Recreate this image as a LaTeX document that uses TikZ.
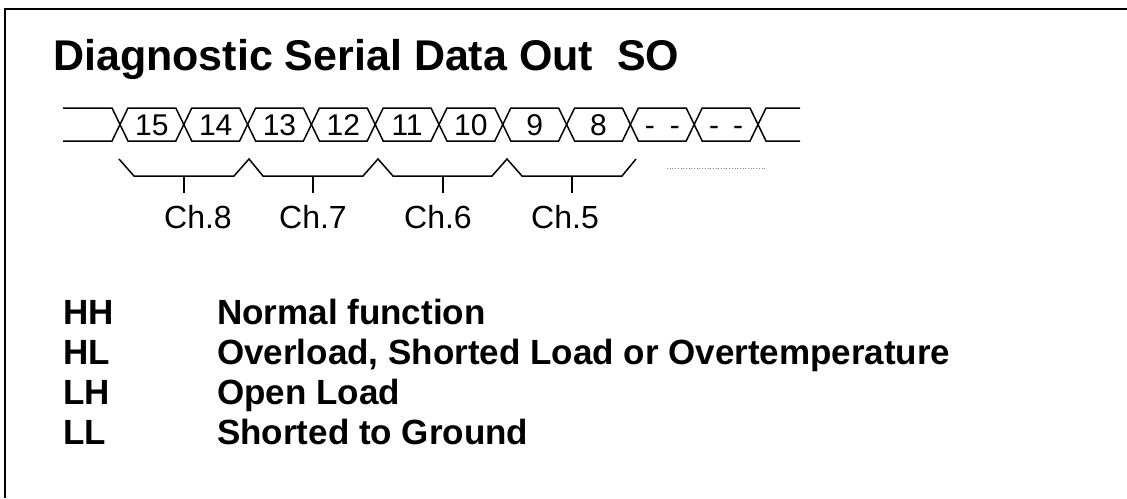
\documentclass[tikz,border=0pt]{standalone}
\usepackage{fontspec}
\setmainfont{Liberation Sans}
\usetikzlibrary{positioning}

\begin{document}
\begin{tikzpicture}[
    x=1pt, y=-1pt,
    node distance=12pt,
    wave/.style={line width=1.5pt, line join=miter},
    brace/.style={line width=1.5pt},
    frame/.style={line width=2.4pt},
    bitlabel/.style={font=\fontsize{30}{30}\selectfont, inner sep=0pt, anchor=base},
    chlabel/.style={font=\fontsize{32}{32}\selectfont, inner sep=0pt},
    heading/.style={font=\bfseries\fontsize{43}{43}\selectfont, inner sep=0pt, anchor=base west},
    legend/.style={font=\bfseries\fontsize{35}{35}\selectfont, inner sep=0pt, anchor=base west}
]
    \useasboundingbox (0,0) rectangle (1127,498);
    \draw[frame] (5,498) -- (5,9) -- (1127,9);

    \node[heading] (title) at (53,70) {Diagnostic Serial Data Out\ \ SO};

    % serial frame, one cell per bit
    \draw[wave] (63,108) -- (112,108) -- (120,124.5) -- (112,141) -- (63,141);
    \foreach \lbl [count=\i from 0] in {15,14,13,12,11,10,9,8,{-\hspace{15pt}-},{-\hspace{14pt}-}} {
        \pgfmathsetmacro{\xa}{120+63.8*\i}
        \pgfmathsetmacro{\xb}{\xa+63.8}
        \draw[wave] (\xa,124.5) -- (\xa+8,108) -- (\xb-8,108) -- (\xb,124.5)
            -- (\xb-8,141) -- (\xa+8,141) -- cycle;
        \node[bitlabel] (bit\i) at ({(\xa+\xb)/2},135.5) {\lbl};
    }
    \draw[wave] (800,108) -- (766,108) -- (758,124.5) -- (766,141) -- (800,141);

    % two bits per channel
    \draw[brace] (119,159) -- (134,176) -- (234,176) -- (249,159) -- (263,176)
        -- (363,176) -- (378,159) -- (393,176) -- (492,176) -- (507,159) -- (522,176)
        -- (622,176) -- (636,159);
    \draw[dotted, gray, line width=0.7pt] (667,168) -- (766,168);

    \coordinate (t8) at (184,193);
    \coordinate (t7) at (313,193);
    \coordinate (t6) at (443,193);
    \coordinate (t5) at (572,193);
    \draw[brace] (184,176) -- (t8);
    \draw[brace] (313,176) -- (t7);
    \draw[brace] (443,176) -- (t6);
    \draw[brace] (572,176) -- (t5);
    \node[chlabel, below=of t8, xshift=14pt] (ch8) {Ch.8};
    \node[chlabel, below=of t7] (ch7) {Ch.7};
    \node[chlabel, below=of t6, xshift=-5pt] (ch6) {Ch.6};
    \node[chlabel, below=of t5, xshift=-7pt] (ch5) {Ch.5};

    % status codes
    \node[legend] (hh) at (63,324) {HH};
    \node[legend] (hl) at (63,364) {HL};
    \node[legend] (lh) at (63,404) {LH};
    \node[legend] (ll) at (63,444) {LL};
    \node[legend] (hhtext) at ([xshift=154pt]hh.base west) {Normal function};
    \node[legend] (hltext) at ([xshift=154pt]hl.base west) {Overload, Shorted Load or Overtemperature};
    \node[legend] (lhtext) at ([xshift=154pt]lh.base west) {Open Load};
    \node[legend] (lltext) at ([xshift=154pt]ll.base west) {Shorted to Ground};
\end{tikzpicture}
\end{document}
